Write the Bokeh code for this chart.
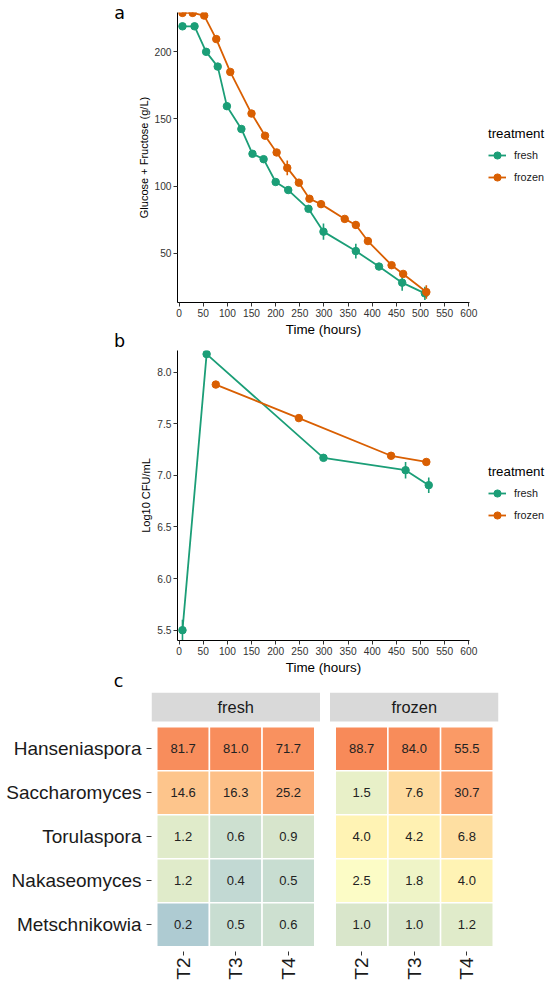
import math
import numpy as np
from bokeh.plotting import figure
from bokeh.models import (ColumnDataSource, Range1d, FixedTicker, Legend,
                          LegendItem, Label, LogColorMapper, PrintfTickFormatter)
from bokeh.embed import file_html
from bokeh.resources import INLINE
from bokeh.core.properties import value
from bokeh.transform import transform

# ---------------- data ----------------
treatments = ["fresh", "frozen"]

# panel a: sugar consumption
sugar_time_fresh = [7, 32, 56, 80, 99, 129, 152, 175, 200, 226, 268, 299, 366, 414, 462, 509]
sugar_fresh = [219, 219, 200, 189, 159.5, 142.5, 124, 120, 103, 97, 83, 66, 51.5, 40, 28, 20]
sugar_fresh_se = [1, 1, 1, 1, 2.5, 1, 2, 1, 1, 1, 1, 6, 5.5, 1, 6, 5]

sugar_time_frozen = [7, 28, 52, 77, 106, 150, 178, 202, 224, 248, 270, 294, 343, 366, 391, 440, 464, 512]
sugar_frozen = [229, 229, 227, 209.5, 185, 154, 137.5, 125, 113.5, 102.5, 90.5, 86.5, 75.5, 71, 59, 41, 34.5, 21]
sugar_frozen_se = [1, 1, 1, 1.5, 1, 1, 1, 1, 5.5, 1, 1, 1.5, 1, 3, 1, 1, 1, 5]

# panel b: yeast population
cfu_time_fresh = [7, 57, 299, 469, 517]
cfu_fresh = [5.5, 8.175, 7.17, 7.05, 6.905]
cfu_fresh_se = [0.1, 0.02, 0.015, 0.08, 0.075]

cfu_time_frozen = [76, 248, 439, 512]
cfu_frozen = [7.88, 7.555, 7.19, 7.13]
cfu_frozen_se = [0.015, 0.03, 0.015, 0.015]

time_ticks = [0, 50, 100, 150, 200, 250, 300, 350, 400, 450, 500, 550, 600]
sugar_ticks = [50, 100, 150, 200]
cfu_ticks = [5.5, 6.0, 6.5, 7.0, 7.5, 8.0]

# panel c: relative abundance (%)
genera = ["Hanseniaspora", "Saccharomyces", "Torulaspora", "Nakaseomyces", "Metschnikowia"]
timepoints = ["T2", "T3", "T4"]
abund_fresh = [[81.7, 81.0, 71.7],
               [14.6, 16.3, 25.2],
               [1.2, 0.6, 0.9],
               [1.2, 0.4, 0.5],
               [0.2, 0.5, 0.6]]
abund_frozen = [[88.7, 84.0, 55.5],
                [1.5, 7.6, 30.7],
                [4.0, 4.2, 6.8],
                [2.5, 1.8, 4.0],
                [1.0, 1.0, 1.2]]

# ---------------- style ----------------
FONT = "Liberation Sans"
GREEN = "#1B9E77"
ORANGE = "#D95F02"
TXT = "#333333"


def style_axes(p, xlabel, ylabel):
    for ax in (p.xaxis, p.yaxis):
        ax.axis_line_color = "black"
        ax.axis_line_width = 1
        ax.major_tick_line_color = "#333333"
        ax.major_tick_in = 0
        ax.major_tick_out = 4
        ax.minor_tick_line_color = None
        ax.major_label_text_font = FONT
        ax.major_label_text_font_size = "10.2px"
        ax.major_label_text_color = TXT
        ax.major_label_standoff = 2
        ax.axis_label_text_font = FONT
        ax.axis_label_text_font_style = "normal"
        ax.axis_label_text_color = "black"
        ax.axis_label_standoff = 2
    p.xaxis.axis_label = xlabel
    p.xaxis.axis_label_text_font_size = "13.4px"
    p.yaxis.axis_label = ylabel
    p.yaxis.axis_label_text_font_size = "11px"
    p.xaxis.ticker = FixedTicker(ticks=time_ticks)
    p.xgrid.grid_line_color = None
    p.ygrid.grid_line_color = None
    p.outline_line_color = None


def add_series(p, t, v, se, color):
    src = ColumnDataSource(dict(t=t, v=v, lo=np.array(v) - np.array(se), hi=np.array(v) + np.array(se)))
    ln = p.line("t", "v", source=src, line_color=color, line_width=1.8)
    p.segment(x0="t", y0="lo", x1="t", y1="hi", source=src, line_color=color, line_width=1.6)
    sc = p.scatter("t", "v", source=src, size=7.5, fill_color=color, line_color=color)
    return ln, sc


def add_legend(p, items):
    leg = Legend(items=[LegendItem(label=lab, renderers=list(r)) for lab, r in items],
                 title="treatment", location=(19, 115))
    leg.title_text_font = FONT
    leg.title_text_font_size = "13.3px"
    leg.title_text_font_style = "normal"
    leg.title_text_color = "black"
    leg.title_standoff = 4
    leg.label_text_font = FONT
    leg.label_text_font_size = "10.8px"
    leg.label_text_color = "#1a1a1a"
    leg.glyph_width = 18
    leg.glyph_height = 20
    leg.label_height = 20
    leg.label_standoff = 8
    leg.spacing = 2
    leg.padding = 0
    leg.margin = 0
    leg.border_line_color = None
    leg.background_fill_alpha = 0
    p.add_layout(leg, "right")


def panel_letter(p, letter, x, y):
    p.add_layout(Label(x=x, y=y, x_units="screen", y_units="screen", text=letter,
                       text_font="DejaVu Sans", text_font_size="17.5px",
                       text_align="center", text_baseline="alphabetic", text_color="black"), "left")


FW, FH_A, FH_B = 292, 290, 290

# ---------------- panel a ----------------
pa = figure(frame_width=FW, frame_height=FH_A, output_backend="svg", toolbar_location=None,
            x_range=Range1d(-3.3, 601.4), y_range=Range1d(13.2, 229.3),
            min_border_left=177, min_border_right=81, min_border_top=12, min_border_bottom=48)
style_axes(pa, "Time (hours)", "Glucose + Fructose (g/L)")
pa.yaxis.ticker = FixedTicker(ticks=sugar_ticks)
ra1 = add_series(pa, sugar_time_fresh, sugar_fresh, sugar_fresh_se, GREEN)
ra2 = add_series(pa, sugar_time_frozen, sugar_frozen, sugar_frozen_se, ORANGE)
add_legend(pa, [(treatments[0], ra1), (treatments[1], ra2)])
panel_letter(pa, "a", -4, FH_A)            # letter of panel a
panel_letter(pa, "b", 7, -38.5)            # letter of panel b (drawn in the gap below)

# ---------------- panel b ----------------
pb = figure(frame_width=FW, frame_height=FH_B, output_backend="svg", toolbar_location=None,
            x_range=Range1d(-3.3, 601.4), y_range=Range1d(5.40, 8.21),
            min_border_left=177, min_border_right=81, min_border_top=0, min_border_bottom=50)
style_axes(pb, "Time (hours)", "Log10 CFU/mL")
pb.yaxis.ticker = FixedTicker(ticks=cfu_ticks)
pb.yaxis.formatter = PrintfTickFormatter(format="%.1f")
rb1 = add_series(pb, cfu_time_fresh, cfu_fresh, cfu_fresh_se, GREEN)
rb2 = add_series(pb, cfu_time_frozen, cfu_frozen, cfu_frozen_se, ORANGE)
add_legend(pb, [(treatments[0], rb1), (treatments[1], rb2)])
panel_letter(pb, "c", -9, -40.5)           # letter of panel c (drawn in the gap below)

# ---------------- panel c ----------------
# colour scale (log) through a smooth blue-green -> yellow -> orange ramp
stops = [(0.2, "#AECBD2"), (0.4, "#C2D9D3"), (0.6, "#CDE0D0"), (1.0, "#D9E6CB"),
         (1.5, "#E8F0C8"), (2.5, "#FCFCC6"), (4.0, "#FFF3B4"), (7.0, "#FEDEA1"),
         (15.0, "#FDC48B"), (28.0, "#FCAA76"), (55.0, "#FA9A66"), (90.0, "#F88A59")]
LOW, HIGH = 0.2, 90.0


def hex2rgb(h):
    return [int(h[i:i + 2], 16) for i in (1, 3, 5)]


sl = np.log10([s[0] for s in stops])
sc_rgb = np.array([hex2rgb(s[1]) for s in stops], dtype=float)
grid = np.linspace(math.log10(LOW), math.log10(HIGH), 256)
palette = []
for g in grid:
    rgb = [np.interp(g, sl, sc_rgb[:, k]) for k in range(3)]
    palette.append("#%02x%02x%02x" % tuple(int(round(c)) for c in rgb))
mapper = LogColorMapper(palette=palette, low=LOW, high=HIGH)

FACET_OFF = 3.39
xs, ys, vals, labs = [], [], [], []
for ti, mat in enumerate([abund_fresh, abund_frozen]):
    for r, g in enumerate(genera):
        for c, tp in enumerate(timepoints):
            xs.append(c + 0.5 + ti * FACET_OFF)
            ys.append(len(genera) - 0.5 - r)
            vals.append(mat[r][c])
            labs.append("%.1f" % mat[r][c])
hsrc = ColumnDataSource(dict(x=xs, y=ys, val=vals, lab=labs))

FH_C = 259
pc = figure(frame_width=347, frame_height=FH_C, output_backend="svg", toolbar_location=None,
            x_range=Range1d(-0.1, 6.49), y_range=Range1d(-0.11, 5.78),
            min_border_left=151, min_border_right=52, min_border_top=2, min_border_bottom=24)
pc.rect("x", "y", width=1, height=1, source=hsrc, fill_color=transform("val", mapper),
        line_color="white", line_width=1.5)
pc.text("x", "y", text="lab", source=hsrc, text_align="center", text_baseline="middle",
        text_font=value(FONT), text_font_size="13px", text_color="#222222")

strip_x = [1.5, 1.5 + FACET_OFF]
strip_src = ColumnDataSource(dict(x=strip_x, y=[5.45, 5.45], t=treatments))
pc.rect("x", "y", width=3.2, height=0.66, source=strip_src, fill_color="#D9D9D9", line_color=None)
pc.text("x", "y", text="t", source=strip_src, text_align="center", text_baseline="middle",
        text_font=value(FONT), text_font_size="16.4px", text_color="#1a1a1a")

xt = [c + 0.5 + ti * FACET_OFF for ti in range(2) for c in range(3)]
pc.xaxis.ticker = FixedTicker(ticks=xt)
pc.xaxis.major_label_overrides = {t: timepoints[i % 3] for i, t in enumerate(xt)}
pc.xaxis.major_label_orientation = math.pi / 2
yt = [len(genera) - 0.5 - r for r in range(len(genera))]
pc.yaxis.ticker = FixedTicker(ticks=yt)
pc.yaxis.major_label_overrides = {t: genera[i] for i, t in enumerate(yt)}
for ax in (pc.xaxis, pc.yaxis):
    ax.axis_line_color = None
    ax.major_tick_line_color = "#333333"
    ax.major_tick_in = 0
    ax.major_tick_out = 5
    ax.minor_tick_line_color = None
    ax.major_label_text_font = FONT
    ax.major_label_text_font_size = "19px"
    ax.major_label_text_color = "#1a1a1a"
    ax.major_label_standoff = 5
pc.xaxis.major_tick_out = 4
pc.xaxis.major_label_standoff = 2
pc.xgrid.grid_line_color = None
pc.ygrid.grid_line_color = None
pc.outline_line_color = None

# three separate roots stacked on the page (keeps each panel's own frame position)
open("out.html", "w").write(file_html([pa, pb, pc], INLINE))
